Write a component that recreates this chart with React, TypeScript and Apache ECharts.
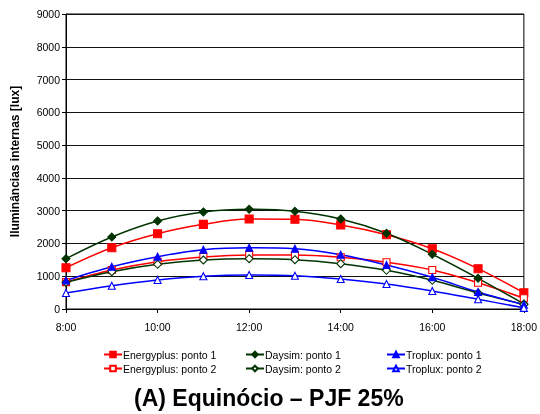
import React, { useEffect, useRef } from "react";
import * as echarts from "echarts";

const hours = ["8:00", "9:00", "10:00", "11:00", "12:00", "13:00", "14:00", "15:00", "16:00", "17:00", "18:00"];
const energyplus1 = [1260, 1870, 2297, 2583, 2746, 2736, 2563, 2267, 1840, 1230, 497];
const energyplus2 = [820, 1190, 1443, 1586, 1647, 1647, 1577, 1425, 1190, 802, 330];
const daysim1 = [1535, 2196, 2685, 2959, 3041, 2980, 2746, 2309, 1669, 937, 155];
const daysim2 = [814, 1138, 1363, 1495, 1535, 1505, 1383, 1180, 875, 488, 140];
const troplux1 = [870, 1290, 1596, 1810, 1870, 1840, 1657, 1342, 967, 519, 130];
const troplux2 = [488, 711, 885, 997, 1037, 1016, 915, 763, 549, 296, 35];
const yTicks = { min: 0, max: 9000, interval: 1000 };

const FONT = "'Liberation Sans', Arial, sans-serif";
const RED = "#ff0000";
const GREEN = "#003300";
const BLUE = "#0000ff";

function mk(name: string, data: number[], color: string, symbol: string, filled: boolean, size: number) {
  return {
    name,
    type: "line",
    data,
    smooth: 0.35,
    symbol,
    symbolSize: size,
    showAllSymbol: true,
    lineStyle: { color, width: 1.5 },
    itemStyle: { color: filled ? color : "#ffffff", borderColor: color, borderWidth: 1.1 },
    emphasis: { disabled: true },
  };
}

export default function App() {
  const ref = useRef<HTMLDivElement>(null);
  useEffect(() => {
    if (!ref.current) return;
    const chart = echarts.init(ref.current, null, { renderer: "svg" });
    const legendCommon = {
      orient: "vertical",
      top: 344,
      itemWidth: 18,
      itemHeight: 7,
      itemGap: 3,
      textStyle: { fontFamily: FONT, fontSize: 10.5, color: "#000", padding: [0, 0, 0, -4] },
      selectedMode: false,
    };
    chart.setOption({
      animation: false,
      grid: { left: 66, right: 12, top: 14, bottom: 105, show: true, borderColor: "#000", borderWidth: 1, backgroundColor: "transparent" },
      title: {
        text: "(A) Equinócio – PJF 25%",
        left: 129,
        top: 381,
        textStyle: { fontFamily: FONT, fontSize: 23, fontWeight: "bold", color: "#000" },
      },
      legend: [
        { ...legendCommon, left: 98, data: ["Energyplus: ponto 1", "Energyplus: ponto 2"] },
        { ...legendCommon, left: 240, data: ["Daysim: ponto 1", "Daysim: ponto 2"] },
        { ...legendCommon, left: 381, data: ["Troplux: ponto 1", "Troplux: ponto 2"] },
      ],
      xAxis: {
        type: "category",
        data: hours,
        boundaryGap: false,
        axisLine: { lineStyle: { color: "#000", width: 1 } },
        axisTick: { interval: 1, length: 4, lineStyle: { color: "#000" } },
        axisLabel: { interval: 1, fontFamily: FONT, fontSize: 10.5, color: "#000", margin: 12 },
        splitLine: { show: false },
      },
      yAxis: {
        type: "value",
        min: yTicks.min,
        max: yTicks.max,
        interval: yTicks.interval,
        name: "Iluminâncias internas [lux]",
        nameLocation: "middle",
        nameGap: 45,
        nameTextStyle: { fontFamily: FONT, fontSize: 12, fontWeight: "bold", color: "#000" },
        axisLine: { show: true, lineStyle: { color: "#000", width: 1 } },
        axisTick: { show: true, length: 4, lineStyle: { color: "#000" } },
        axisLabel: { fontFamily: FONT, fontSize: 10.5, color: "#000", margin: 6, formatter: (v: number) => String(v) },
        splitLine: { show: true, lineStyle: { color: "#111", width: 1 } },
      },
      series: [
        mk("Energyplus: ponto 1", energyplus1, RED, "rect", true, 8),
        mk("Energyplus: ponto 2", energyplus2, RED, "rect", false, 7),
        mk("Daysim: ponto 1", daysim1, GREEN, "diamond", true, 8),
        mk("Daysim: ponto 2", daysim2, GREEN, "diamond", false, 8),
        mk("Troplux: ponto 1", troplux1, BLUE, "triangle", true, 7),
        mk("Troplux: ponto 2", troplux2, BLUE, "triangle", false, 7),
      ],
    });
    return () => chart.dispose();
  }, []);
  return <div ref={ref} style={{ position: "fixed", left: 0, top: 0, width: 540, height: 414 }} />;
}
